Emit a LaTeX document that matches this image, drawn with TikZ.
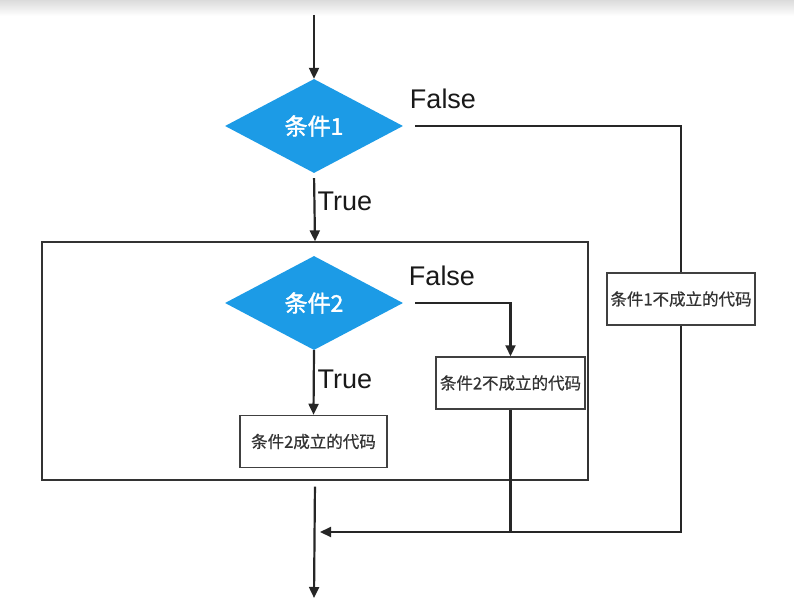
\documentclass[tikz,border=0pt]{standalone}
\usepackage{fontspec}
\setmainfont{Liberation Sans}
\newfontfamily\cjk{Noto Sans CJK SC}[FakeBold=0.6]
\newfontfamily\cjkbold{Noto Sans CJK SC}[FakeBold=1.8]
\usetikzlibrary{shapes.geometric,arrows.meta}
\definecolor{condblue}{HTML}{1C9BE6}
\tikzset{
    cond/.style={diamond,fill=condblue,inner sep=0pt,minimum width=178pt,minimum height=94pt,
        text=white,font=\cjkbold\fontsize{23}{25}\selectfont},
    codebox/.style={draw=black!75,line width=1.5pt,fill=white,minimum height=52pt,inner sep=1pt,
        font=\cjk\fontsize{16.5}{18}\selectfont,text=black!80},
    lab/.style={font=\fontsize{27}{30}\selectfont,text=black!90},
    flow/.style={line width=2.2pt,draw=black!85},
    arr/.style={flow,-{Triangle[width=10pt,length=11pt]}}
}
\begin{document}
\begin{tikzpicture}[x=1pt,y=-1pt]
        \useasboundingbox (0,0) rectangle (794,609);
        \fill[top color=black!14,bottom color=white] (0,0) rectangle (794,16);
        \node[draw=black!80,line width=1.3pt,minimum width=546pt,minimum height=238pt] (f) at (315,361) {};
        \coordinate (s) at (314,15);
        \coordinate (m) at (314,532);
        \coordinate (t) at (314,598);
        \node[cond] (a) at (314,126) {条件1};
        \node[cond] (c) at (314,303) {条件2};
        \node[codebox,minimum width=148pt] (b) at (681,299) {条件1不成立的代码};
        \node[codebox,minimum width=149pt] (e) at (510.5,383) {条件2不成立的代码};
        \node[codebox,minimum width=147pt] (d) at (313.5,441.5) {条件2成立的代码};
        \node[lab] at (443,99) {False};
        \node[lab] at (442,276) {False};
        \node[lab] at (345,201) {True};
        \node[lab] at (345,379) {True};
        \draw[arr] (s) -- (a.north);
        \draw[arr,shorten <=5pt] (a.south) -- (f.north);
        \draw[flow,shorten <=12pt] (a.east) -| (b.north);
        \draw[arr,shorten >=6pt] (b.south) |- (m);
        \draw[arr,shorten <=12pt] (c.east) -| (e.north);
        \draw[arr] (c.south) -- (d.north);
        \draw[flow] (e.south) -- (e.south |- m);
        \draw[arr,shorten <=6pt] (f.south) -- (t);
    \end{tikzpicture}
\end{document}
